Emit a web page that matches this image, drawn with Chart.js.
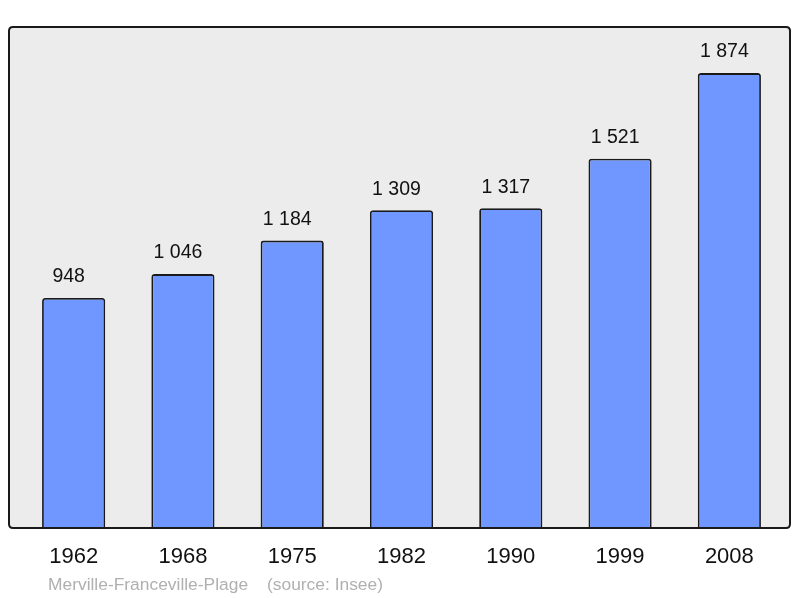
<!DOCTYPE html>
<html>
<head>
<meta charset="utf-8">
<script src="https://cdn.jsdelivr.net/npm/chart.js@4/dist/chart.umd.min.js"></script>
<style>
  html, body { margin: 0; padding: 0; background: #fff; }
  #wrap { width: 800px; height: 598px; position: relative; }
</style>
</head>
<body>
<div id="wrap"><canvas id="chartPopulation"></canvas></div>
<script>
// population census values
var years = ['1962', '1968', '1975', '1982', '1990', '1999', '2008'];
var population = [948, 1046, 1184, 1309, 1317, 1521, 1874];
var valueLabels = ['948', '1 046', '1 184', '1 309', '1 317', '1 521', '1 874'];
var townName = 'Merville-Franceville-Plage';
var sourceText = '(source: Insee)';

function roundRect(ctx, x, y, w, h, r) {
    ctx.beginPath();
    ctx.moveTo(x + r, y);
    ctx.lineTo(x + w - r, y);
    ctx.quadraticCurveTo(x + w, y, x + w, y + r);
    ctx.lineTo(x + w, y + h - r);
    ctx.quadraticCurveTo(x + w, y + h, x + w - r, y + h);
    ctx.lineTo(x + r, y + h);
    ctx.quadraticCurveTo(x, y + h, x, y + h - r);
    ctx.lineTo(x, y + r);
    ctx.quadraticCurveTo(x, y, x + r, y);
    ctx.closePath();
}

// grey panel behind the bars
var panelPlugin = {
    id: 'panel',
    beforeDatasetsDraw: function (chart) {
        var ctx = chart.ctx;
        ctx.save();
        roundRect(ctx, 9, 27, 781, 501, 4);
        ctx.fillStyle = '#ececec';
        ctx.fill();
        ctx.restore();
    },
    afterDatasetsDraw: function (chart) {
        var ctx = chart.ctx;
        ctx.save();
        roundRect(ctx, 9, 27, 781, 501, 4);
        ctx.lineWidth = 2;
        ctx.strokeStyle = '#1a1a1a';
        ctx.stroke();
        ctx.restore();
    }
};

// value labels, year labels and source line
var labelPlugin = {
    id: 'labels',
    afterDraw: function (chart) {
        var ctx = chart.ctx;
        var meta = chart.getDatasetMeta(0);
        var xScale = chart.scales.x;
        ctx.save();
        ctx.fillStyle = '#111';
        ctx.textAlign = 'center';
        ctx.textBaseline = 'middle';
        ctx.font = '19.5px "Liberation Sans", Arial, sans-serif';
        meta.data.forEach(function (bar, i) {
            ctx.fillText(valueLabels[i], bar.x - 5, bar.y - 21);
        });
        ctx.font = '22px "Liberation Sans", Arial, sans-serif';
        years.forEach(function (y, i) {
            ctx.fillText(y, xScale.getPixelForValue(i), 557);
        });
        ctx.textAlign = 'left';
        ctx.fillStyle = '#b0b0b0';
        ctx.font = '17.4px "Liberation Sans", Arial, sans-serif';
        ctx.fillText(townName, 48, 585);
        ctx.fillText(sourceText, 267, 585);
        ctx.restore();
    }
};

new Chart(document.getElementById('chartPopulation').getContext('2d'), {
    type: 'bar',
    data: {
        labels: years,
        datasets: [{
            data: population,
            backgroundColor: '#7097ff',
            borderColor: '#1a1a1a',
            borderWidth: 1.8,
            borderRadius: { topLeft: 3, topRight: 3 },
            borderSkipped: 'bottom',
            barPercentage: 0.578,
            categoryPercentage: 1
        }]
    },
    options: {
        responsive: true,
        maintainAspectRatio: false,
        animation: false,
        layout: { padding: { left: 19, right: 16, top: 27, bottom: 70 } },
        plugins: { legend: { display: false }, tooltip: { enabled: false } },
        scales: {
            x: { display: false },
            y: { display: false, min: 0, max: 2064 }
        }
    },
    plugins: [panelPlugin, labelPlugin]
});
</script>
</body>
</html>
